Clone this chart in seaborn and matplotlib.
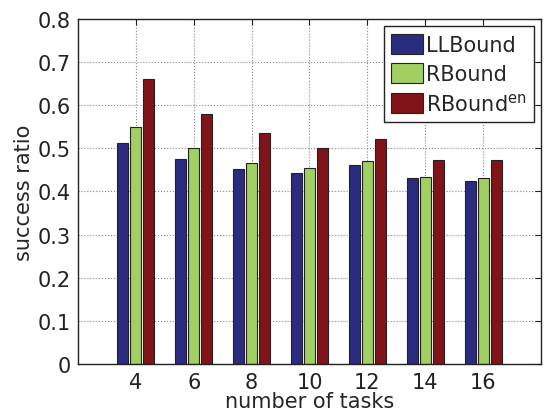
import matplotlib
matplotlib.use("Agg")
import matplotlib.pyplot as plt
import seaborn as sns
import pandas as pd

tasks = ["4", "6", "8", "10", "12", "14", "16"]
llbound = [0.512, 0.476, 0.451, 0.444, 0.461, 0.431, 0.424]
rbound = [0.549, 0.501, 0.465, 0.454, 0.471, 0.434, 0.431]
rbound_en = [0.662, 0.579, 0.535, 0.501, 0.521, 0.472, 0.474]
series_names = ["LLBound", "RBound", r"RBound$^{\mathrm{en}}$"]
colors = ["#2b2b80", "#a2cf62", "#811418"]
yticks = [0, 0.1, 0.2, 0.3, 0.4, 0.5, 0.6, 0.7, 0.8]

rows = []
for name, vals in zip(series_names, [llbound, rbound, rbound_en]):
    for t, v in zip(tasks, vals):
        rows.append({"tasks": t, "value": v, "series": name})
df = pd.DataFrame(rows)

sns.set_style("white")
plt.rcParams["font.family"] = ["DejaVu Sans"]
plt.rcParams["mathtext.fontset"] = "dejavusans"

fig = plt.figure(figsize=(5.47, 4.14), dpi=100)
ax = fig.add_axes([0.1426, 0.1184, 0.8464, 0.8333])

sns.barplot(data=df, x="tasks", y="value", hue="series", order=tasks,
            hue_order=series_names, palette=colors, width=0.67, gap=0.15,
            edgecolor="#222222", linewidth=0.8, saturation=1, ax=ax,
            errorbar=None)

ax.set_xlim(-1, 7)
ax.set_ylim(0, 0.8)
ax.set_yticks(yticks)
ax.set_yticklabels([f"{v:g}" for v in yticks])
ax.set_xlabel("number of tasks", fontsize=15, labelpad=-1)
ax.set_ylabel("success ratio", fontsize=15, labelpad=3)
ax.tick_params(direction="in", top=True, right=True, length=4, width=0.8,
               labelsize=15, colors="#222222", pad=5)
ax.tick_params(axis="x", pad=6)
ax.set_axisbelow(True)
ax.grid(True, linestyle=":", color="#888888", linewidth=0.8)
for s in ax.spines.values():
    s.set_color("#222222")
    s.set_linewidth(1.0)

handles, labels = ax.get_legend_handles_labels()
leg = ax.legend(handles, labels, loc="upper right", fontsize=15,
                frameon=True, fancybox=False, edgecolor="#222222",
                framealpha=1, handlelength=1.5, handleheight=1.1,
                handletextpad=0.15, labelspacing=0.4, borderpad=0.35,
                borderaxespad=0.35)
leg.get_frame().set_linewidth(1.0)

fig.savefig("out.png", dpi=100)
